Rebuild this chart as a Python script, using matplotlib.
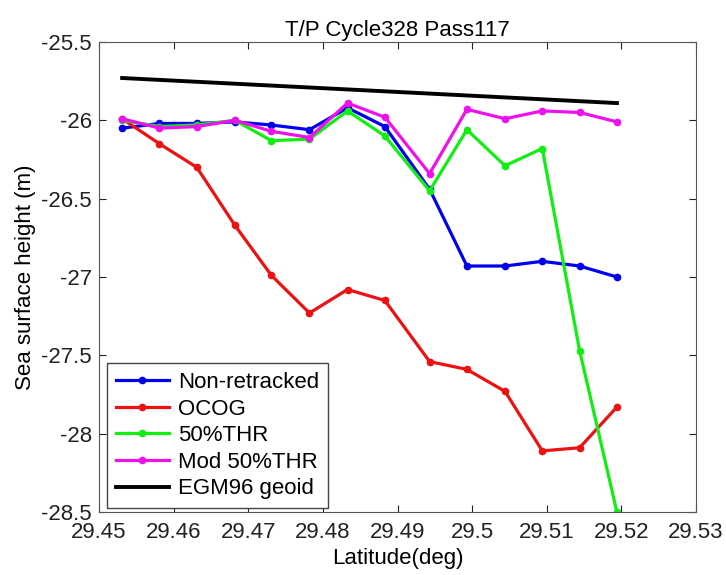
import numpy as np
import matplotlib
matplotlib.use('Agg')
import matplotlib.pyplot as plt

plt.rcParams.update({'font.family': ['Liberation Sans', 'DejaVu Sans']})
plt.rcParams.update({'font.size': 16})

# latitude of each waveform (deg)
lat = [29.4531, 29.4581, 29.4631, 29.4682, 29.4731, 29.4782, 29.4833,
       29.4883, 29.4943, 29.4993, 29.5044, 29.5094, 29.5144, 29.5194]

non_retracked = [-26.05, -26.02, -26.02, -26.01, -26.03, -26.06, -25.92,
                 -26.04, -26.44, -26.93, -26.93, -26.90, -26.93, -27.00]
ocog = [-25.99, -26.15, -26.30, -26.67, -26.99, -27.23, -27.08,
        -27.15, -27.54, -27.59, -27.73, -28.11, -28.09, -27.83]
thr50 = [-26.00, -26.04, -26.03, -26.00, -26.13, -26.12, -25.94,
         -26.10, -26.45, -26.06, -26.29, -26.18, -27.47, -28.50]
mod_thr50 = [-25.99, -26.05, -26.04, -26.00, -26.07, -26.11, -25.89,
             -25.98, -26.34, -25.93, -25.99, -25.94, -25.95, -26.01]
geoid_lat = [29.4531, 29.5194]
geoid = [-25.73, -25.89]

xticks = [29.45, 29.46, 29.47, 29.48, 29.49, 29.50, 29.51, 29.52, 29.53]
xticklabels = ['29.45', '29.46', '29.47', '29.48', '29.49', '29.5', '29.51', '29.52', '29.53']
yticks = [-25.5, -26, -26.5, -27, -27.5, -28, -28.5]
yticklabels = ['-25.5', '-26', '-26.5', '-27', '-27.5', '-28', '-28.5']

fig = plt.figure(figsize=(7.26, 5.75), dpi=100)
ax = fig.add_axes([0.1364, 0.1096, 0.8223, 0.8174])

lw = 2.3
ms = 4.5
ax.plot(lat, non_retracked, '-o', color='#0000ee', lw=lw, ms=ms, label='Non-retracked')
ax.plot(lat, ocog, '-o', color='#ee1111', lw=lw, ms=ms, label='OCOG')
ax.plot(lat, thr50, '-o', color='#11ee11', lw=lw, ms=ms, label='50%THR')
ax.plot(lat, mod_thr50, '-o', color='#ee11ee', lw=lw, ms=ms, label='Mod 50%THR')
ax.plot(geoid_lat, geoid, '-', color='black', lw=lw + 0.5, label='EGM96 geoid')

ax.set_xlim(29.45, 29.53)
ax.set_ylim(-28.5, -25.5)
ax.set_xticks(xticks)
ax.set_xticklabels(xticklabels)
ax.set_yticks(yticks)
ax.set_yticklabels(yticklabels)
ax.tick_params(direction='in', top=True, right=True, length=5, width=0.8, colors='#222222')
ax.tick_params(axis='x', pad=7)
ax.tick_params(axis='y', pad=5)
for s in ax.spines.values():
    s.set_linewidth(0.8)
    s.set_color('#555555')

ax.set_title('T/P Cycle328 Pass117', fontsize=16, pad=4)
ax.set_xlabel('Latitude(deg)', labelpad=4)
ax.set_ylabel('Sea surface height (m)', labelpad=4)

leg = ax.legend(loc='lower left', bbox_to_anchor=(0.013, 0.008), fancybox=False,
                edgecolor='#444444', framealpha=1, fontsize=16, handlelength=2.4,
                labelspacing=0.25, borderpad=0.4, handletextpad=0.4, borderaxespad=0)
leg.get_frame().set_linewidth(1.0)

plt.savefig('out.png', dpi=100)
